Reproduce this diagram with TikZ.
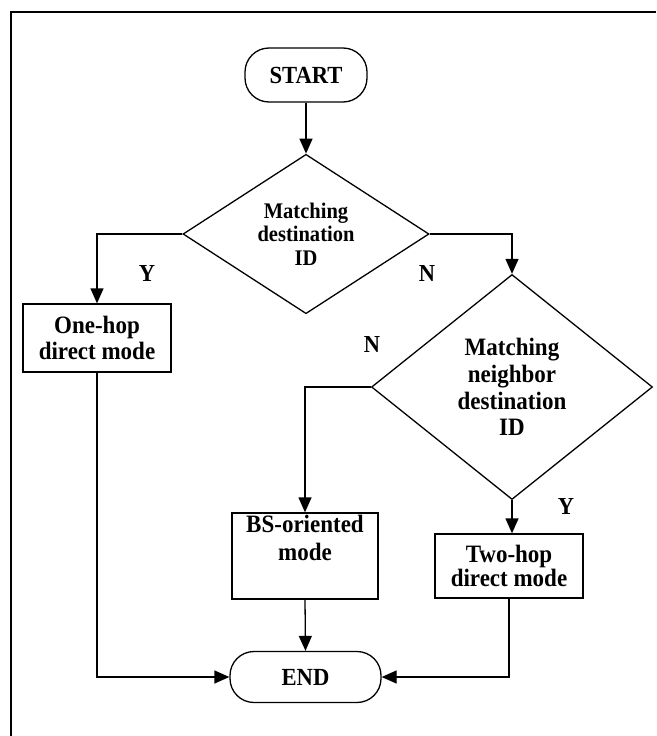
\documentclass[tikz,border=0pt]{standalone}
\usepackage{fontspec}
\setmainfont{Liberation Serif}[FakeStretch=0.92]
\usetikzlibrary{shapes.geometric,arrows.meta}
\tikzset{
  every node/.style={font=\bfseries},
  procbox/.style={draw, line width=1.3pt, rectangle, inner sep=0pt, align=center,
    font=\bfseries\fontsize{25}{26.7}\selectfont},
  termbox/.style={draw, line width=1.3pt, rectangle, rounded corners=24pt, inner sep=0pt,
    align=center, font=\bfseries\fontsize{24.6}{26}\selectfont},
  decbox/.style={draw, line width=1.3pt, diamond, inner sep=0pt, align=center},
  lbl/.style={inner sep=0pt, font=\bfseries\fontsize{24.4}{26}\selectfont},
  arr/.style={line width=1.3pt, -{Triangle[length=15pt,width=13pt]}},
}
\begin{document}
\begin{tikzpicture}[x=1pt,y=-1pt]
\useasboundingbox (0,0) rectangle (656,736);
\draw[line width=2pt] (11,736) -- (11,12) -- (656,12);

\node[termbox, minimum width=122pt, minimum height=54pt] (start) at (306,75) {START};
\node[decbox, minimum width=246pt, minimum height=155pt,
      font=\bfseries\fontsize{22.3}{23.5}\selectfont] (d1) at (306,234)
      {Matching\\destination\\ID};
\node[procbox, minimum width=148pt, minimum height=68pt] (onehop) at (97,338)
      {One-hop\\direct mode};
\node[decbox, minimum width=281pt, minimum height=225pt,
      font=\bfseries\fontsize{25}{26.7}\selectfont] (d2) at (512,387)
      {Matching\\neighbor\\destination\\ID};
\node[procbox, minimum width=146pt, minimum height=86pt,
      font=\bfseries\fontsize{25}{27.7}\selectfont] (bs) at (305,556)
      {BS-oriented\\mode\\\strut};
\node[procbox, minimum width=148pt, minimum height=64pt,
      font=\bfseries\fontsize{25}{24}\selectfont] (twohop) at (509,566)
      {Two-hop\\direct mode};
\node[termbox, minimum width=151pt, minimum height=51pt] (end) at (305.5,677) {END};

\node[lbl] (y1) at (147,274) {Y};
\node[lbl] (n1) at (427,274) {N};
\node[lbl] (n2) at (372,345) {N};
\node[lbl] (y2) at (566,507) {Y};

\draw[arr] (start.south) -- (d1.north);
\draw[arr] (d1.west) -| (onehop.north);
\draw[arr] (d1.east) -| (d2.north);
\draw[arr] (d2.west) -| (bs.north);
\draw[arr] (d2.south) -- (d2.south |- twohop.north);
\draw[arr] (bs.south) -- (end.north);
\draw[arr] (onehop.south) |- (end.west);
\draw[arr] (twohop.south) |- (end.east);
\end{tikzpicture}
\end{document}
